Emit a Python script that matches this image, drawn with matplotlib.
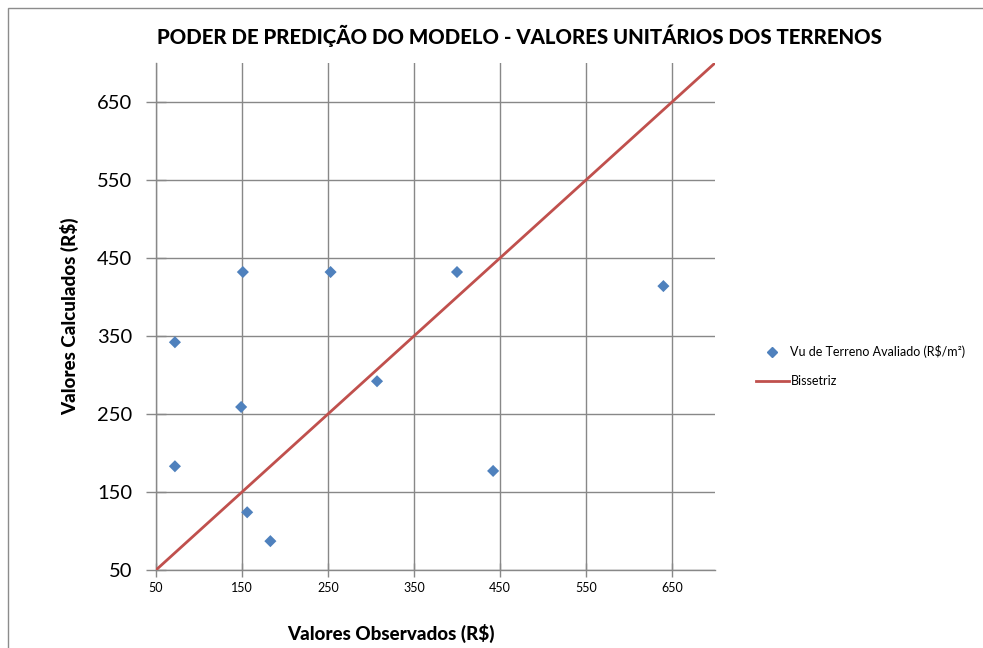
import matplotlib
matplotlib.use("Agg")
import matplotlib.pyplot as plt
from matplotlib.patches import Rectangle
from matplotlib.lines import Line2D

obs = [72, 72, 149, 151, 156, 183, 253, 307, 400, 442, 640]
calc = [342, 183, 259, 432, 124, 87, 432, 292, 432, 177, 414]
bis_x = [50, 700]
bis_y = [50, 700]
ticks = [50, 150, 250, 350, 450, 550, 650]

plt.rcParams['font.family'] = ['Lato', 'DejaVu Sans']

W, H = 983, 648
fig = plt.figure(figsize=(W/100, H/100), dpi=100)
fig.patches.append(Rectangle((8/W, -0.1), 1.2, (H-8)/H + 0.1, transform=fig.transFigure,
                             fill=False, edgecolor='#8c8c8c', linewidth=1))

ax = fig.add_axes([156/W, 78/H, 559/W, 507/H])
grid_c = '#888888'
ax.set_xlim(50, 700)
ax.set_ylim(50, 700)
ax.set_xticks(ticks)
ax.set_yticks(ticks)
ax.grid(True, color=grid_c, linewidth=1)
ax.set_axisbelow(True)
for s in ['top', 'right']:
    ax.spines[s].set_visible(False)
for s in ['left', 'bottom']:
    ax.spines[s].set_color(grid_c)
    ax.spines[s].set_linewidth(1)
ax.tick_params(axis='x', direction='inout', length=10, color=grid_c, width=1, labelsize=9, pad=4)
ax.tick_params(axis='y', direction='inout', length=14, color=grid_c, width=1, labelsize=14.5, pad=10)

ax.plot(bis_x, bis_y, color='#C0504D', linewidth=2, label='Bissetriz', zorder=3)
ax.scatter(obs, calc, marker='D', s=38, color='#4F81BD', edgecolors='none',
           label='Vu de Terreno Avaliado (R$/m²)', zorder=4)

ax.set_xlabel('Valores Observados (R$)', fontsize=13.5, fontweight='black')
ax.xaxis.set_label_coords((391-156)/559, -(633-570)/507)
ax.xaxis.label.set_verticalalignment('center')
ax.set_ylabel('Valores Calculados (R$)', fontsize=13.5, fontweight='black')
ax.yaxis.set_label_coords(-(156-70)/559, 0.5)
ax.yaxis.label.set_verticalalignment('center')

fig.text(519/W, 1 - 36/H, 'PODER DE PREDIÇÃO DO MODELO - VALORES UNITÁRIOS DOS TERRENOS',
         ha='center', va='center', fontsize=14.7, fontweight='black')

handles = [Line2D([], [], marker='D', color='#4F81BD', linestyle='none', markersize=5.5),
           Line2D([], [], color='#C0504D', linewidth=2)]
labels = ['Vu de Terreno Avaliado (R$/m²)', 'Bissetriz']
fig.legend(handles, labels, loc='upper left', bbox_to_anchor=(756/W, 1 - 345/H),
           frameon=False, fontsize=9, handlelength=2.6, handletextpad=0.15,
           labelspacing=1.35, borderpad=0, borderaxespad=0)

fig.savefig('out.png', dpi=100)
